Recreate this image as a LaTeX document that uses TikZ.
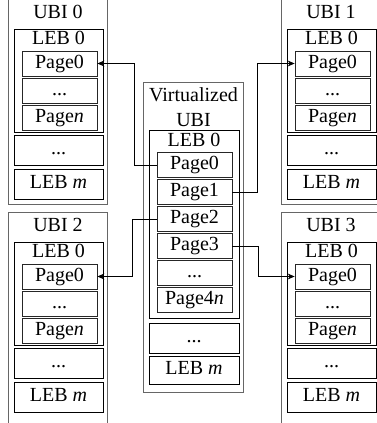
\documentclass[tikz,border=0pt]{standalone}
\usepackage{fontspec}
\setmainfont{Liberation Serif}
\usetikzlibrary{arrows.meta}
\newcommand{\skipdots}{...}
\tikzset{
	ubi/.style={draw=black!60,line width=0.8pt},
	lebbox/.style={draw,line width=0.8pt,inner sep=0pt,minimum width=89pt,text height=14pt,text depth=5pt},
	pagebox/.style={draw=black!85,line width=0.8pt,inner sep=0pt,minimum width=75pt,minimum height=25pt,text height=14pt,text depth=5pt},
	txt/.style={inner sep=0pt,text height=14pt,text depth=5pt},
}
\begin{document}
\begin{tikzpicture}[x=1pt,y=-1pt,>={Stealth[length=7pt,width=6pt]},font=\fontsize{20}{25}\selectfont]
	\useasboundingbox (0,0) rectangle (377,423);
	\clip (0,0) rectangle (377,423);
	% the four UBI volumes
	\foreach \ox/\oy/\n/\yb in {8/-1/0/204, 281/-1/1/204, 8/212/2/440, 281/212/3/440}{
		\draw[ubi] (\ox,\oy) rectangle (\ox+99,\yb);
		\node[txt] (u\n-t) at (\ox+50,\oy+15) {UBI \n};
		\node[lebbox,minimum height=103pt] (u\n-l0) at (\ox+50.5,\oy+81.5) {};
		\node[txt] (u\n-lt) at (\ox+50.5,\oy+41) {LEB 0};
		\node[pagebox] (u\n-p0) at (\ox+51.5,\oy+64.5) {Page0};
		\node[pagebox] (u\n-pd) at (\ox+51.5,\oy+91.5) {\skipdots};
		\node[pagebox] (u\n-pn) at (\ox+51.5,\oy+118.5) {Page\textit{n}};
		\node[lebbox,minimum height=30pt] (u\n-ld) at (\ox+50.5,\oy+151) {\skipdots};
		\node[lebbox,minimum height=30pt] (u\n-lm) at (\ox+50.5,\oy+185) {LEB \textit{m}};
	}
	% virtualized UBI
	\draw[ubi] (143,82) rectangle (243,392);
	\node[inner sep=0pt,align=center] (v-t) at (193.5,107.5) {Virtualized\\UBI};
	\node[lebbox,minimum width=90pt,minimum height=188pt] (v-l0) at (194,224) {};
	\node[txt] (v-lt) at (194,142) {LEB 0};
	\foreach \i/\y/\t in {0/165/Page0,1/192/Page1,2/219/Page2,3/246/Page3,d/273/\skipdots,n/300/Page4\textit{n}}
	\node[pagebox] (v-p\i) at (194.5,\y) {\t};
	\node[lebbox,minimum width=90pt,minimum height=30pt] (v-ld) at (194,338) {\skipdots};
	\node[lebbox,minimum width=90pt,minimum height=28pt] (v-lm) at (194,370) {LEB \textit{m}};
	% page mapping
	\draw[->,line width=0.8pt] (v-p0.west) -- ++(-22,0) |- (u0-p0.east);
	\draw[->,line width=0.8pt] (v-p1.east) -- ++(25,0) |- (u1-p0.west);
	\draw[->,line width=0.8pt] (v-p2.west) -- ++(-24,0) |- (u2-p0.east);
	\draw[->,line width=0.8pt] (v-p3.east) -- ++(26,0) |- (u3-p0.west);
\end{tikzpicture}
\end{document}
